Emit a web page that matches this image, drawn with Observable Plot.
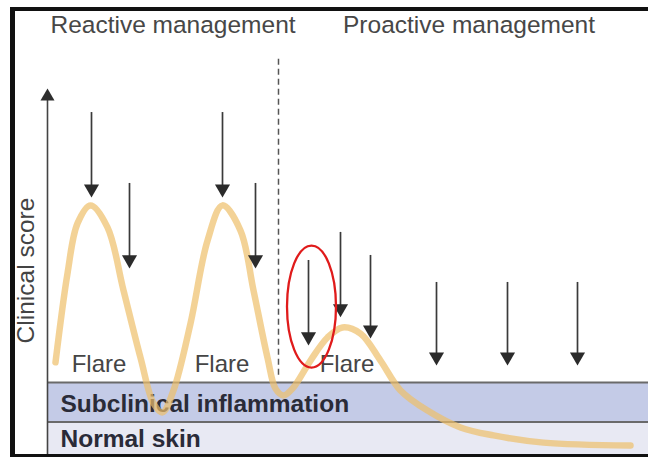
<!DOCTYPE html>
<html>
<head>
<meta charset="utf-8">
<script src="https://cdn.jsdelivr.net/npm/d3@7"></script>
<script src="https://cdn.jsdelivr.net/npm/@observablehq/plot@0.6"></script>
<style>
  html, body { margin: 0; padding: 0; background: #fff; }
  #wrap { position: relative; width: 648px; height: 457px; overflow: hidden; }
  #frame { position: absolute; left: 10px; top: 7px; width: 638px; height: 450px; box-sizing: border-box;
           border-top: 4px solid #111; border-left: 5px solid #111; border-bottom: 3px solid #111; pointer-events: none; }
  svg { display: block; }
</style>
</head>
<body>
<div id="wrap"><div id="chart"></div><div id="frame"></div></div>
<script>
// ---- data (time units on x, clinical score on y) ----
const curveTime  = [0.8, 2.0, 3.0, 4.3, 6.0, 7.6, 9.3, 10.6, 11.5, 12.6, 14.3, 16.0, 17.5, 19.3, 20.6, 22.0, 22.8, 23.6, 24.5, 26.3, 28.0, 29.5, 31.3, 33.3, 35.3, 38.0, 41.3, 44.6, 49.6, 58.3];
const curveScore = [2.56, 5.03, 6.42, 6.92, 6.31, 4.56, 2.69, 1.42, 1.17, 1.78, 3.64, 5.94, 6.92, 6.22, 4.56, 2.69, 1.83, 1.64, 1.83, 2.61, 3.25, 3.53, 3.36, 2.61, 1.78, 1.22, 0.75, 0.53, 0.33, 0.25];

const arrowTime  = [4.4, 8.2, 17.5, 20.8, 26.1, 29.3, 32.3, 38.9, 46.0, 53.0];
const arrowTop   = [9.36, 7.39, 9.36, 7.39, 5.25, 6.03, 5.39, 4.64, 4.64, 4.64];
const arrowTip   = [7.14, 5.17, 7.14, 5.17, 3.03, 3.81, 3.22, 2.47, 2.47, 2.47];

const bandNames  = ["Normal skin", "Subclinical inflammation"];
const bandLow    = [0, 0.9];
const bandHigh   = [0.9, 2.0];
const bandLabelY = [0.22, 1.17];

const flareLabels = ["Flare", "Flare", "Flare"];
const flareTime   = [5.15, 17.45, 29.95];
const flareScore  = [2.28, 2.28, 2.28];

const phaseLabels = ["Reactive management", "Proactive management"];
const phaseTime   = [12.55, 42.15];
const phaseScore  = [11.72, 11.72];

const switchTime  = [23.1];
const switchRange = [2.2, 11.0];

const axisTitle   = ["Clinical score"];
const axisTop     = [10.17];

const highlightTime  = [26.4];
const highlightScore = [4.11];

// ---- tables ----
const curve  = curveTime.map((t, i) => ({t, s: curveScore[i]}));
const arrows = arrowTime.map((t, i) => ({t, top: arrowTop[i], tip: arrowTip[i]}));
const bands  = bandNames.map((name, i) => ({name, lo: bandLow[i], hi: bandHigh[i], ly: bandLabelY[i]}));
const flares = flareLabels.map((label, i) => ({label, t: flareTime[i], s: flareScore[i]}));
const phases = phaseLabels.map((label, i) => ({label, t: phaseTime[i], s: phaseScore[i]}));
const highlight = highlightTime.map((t, i) => ({t, s: highlightScore[i]}));

const bandColors = {"Normal skin": "#e8e9f3", "Subclinical inflammation": "#c4cbe7"};
const font = "Liberation Sans, Arial, Helvetica, sans-serif";

// ellipse symbol for the highlight
const RX = 24.5, RY = 61, K = 0.5523;
const ellipseSymbol = {
  draw(ctx) {
    const kx = RX * K, ky = RY * K;
    ctx.moveTo(RX, 0);
    ctx.bezierCurveTo(RX, ky, kx, RY, 0, RY);
    ctx.bezierCurveTo(-kx, RY, -RX, ky, -RX, 0);
    ctx.bezierCurveTo(-RX, -ky, -kx, -RY, 0, -RY);
    ctx.bezierCurveTo(kx, -RY, RX, -ky, RX, 0);
    ctx.closePath();
  }
};

const chart = Plot.plot({
  width: 648,
  height: 457,
  marginTop: 0, marginRight: 0, marginBottom: 0, marginLeft: 0,
  x: {domain: [0, 60], range: [47, 647], axis: null},
  y: {domain: [0, 10], range: [454, 94], axis: null},
  style: {background: "#fff", fontFamily: font, overflow: "visible"},
  marks: [
    // bands
    Plot.rect(bands, {x1: 0, x2: 60.2, y1: "lo", y2: "hi", fill: d => bandColors[d.name]}),
    Plot.ruleY(bandHigh, {x1: 0, x2: 60.2, stroke: "#6a6a6a", strokeWidth: 2}),
    // y axis with arrow
    Plot.ruleX([0], {y1: 0, y2: axisTop[0] - 0.25, stroke: "#444", strokeWidth: 1.6}),
    Plot.dot(axisTop, {x: 0, y: d => d, symbol: "triangle", r: 5.2, fill: "#2e2e2e", stroke: "none", dy: 8.1}),
    Plot.text(axisTitle, {x: -1.4, y: 5.11, text: d => d, rotate: -90, lineAnchor: "bottom", fontSize: 24.5, fill: "#444"}),
    // phase divider
    Plot.ruleX(switchTime, {y1: switchRange[0], y2: switchRange[1], stroke: "#555", strokeWidth: 1.5, strokeDasharray: "6,4"}),
    // texts
    Plot.text(phases, {x: "t", y: "s", text: "label", lineAnchor: "bottom", fontSize: 24.5, fill: "#474747"}),
    Plot.text(flares, {x: "t", y: "s", text: "label", lineAnchor: "bottom", fontSize: 24, fill: "#454545"}),
    Plot.text(bands, {x: 1.3, y: "ly", text: "name", textAnchor: "start", lineAnchor: "bottom", fontSize: 24.5, fontWeight: "bold", fill: "#2a2b38"}),
    // clinical score course
    Plot.line(curve, {x: "t", y: "s", curve: "catmull-rom", stroke: "#eebf6a", strokeOpacity: 0.7, strokeWidth: 6.5, strokeLinecap: "round"}),
    // treatment arrows
    Plot.ruleX(arrows, {x: "t", y1: "top", y2: "tip", stroke: "#3a3a3a", strokeWidth: 1.7, dy: -5}),
    Plot.dot(arrows, {x: "t", y: "tip", symbol: "triangle", r: 5.6, rotate: 180, fill: "#2b2b2b", stroke: "none", dy: -8.7}),
    // highlight ellipse
    Plot.dot(highlight, {x: "t", y: "s", symbol: ellipseSymbol, r: 10, fill: "none", stroke: "#e01b1b", strokeWidth: 2.3})
  ]
});
document.getElementById("chart").appendChild(chart);
</script>
</body>
</html>
